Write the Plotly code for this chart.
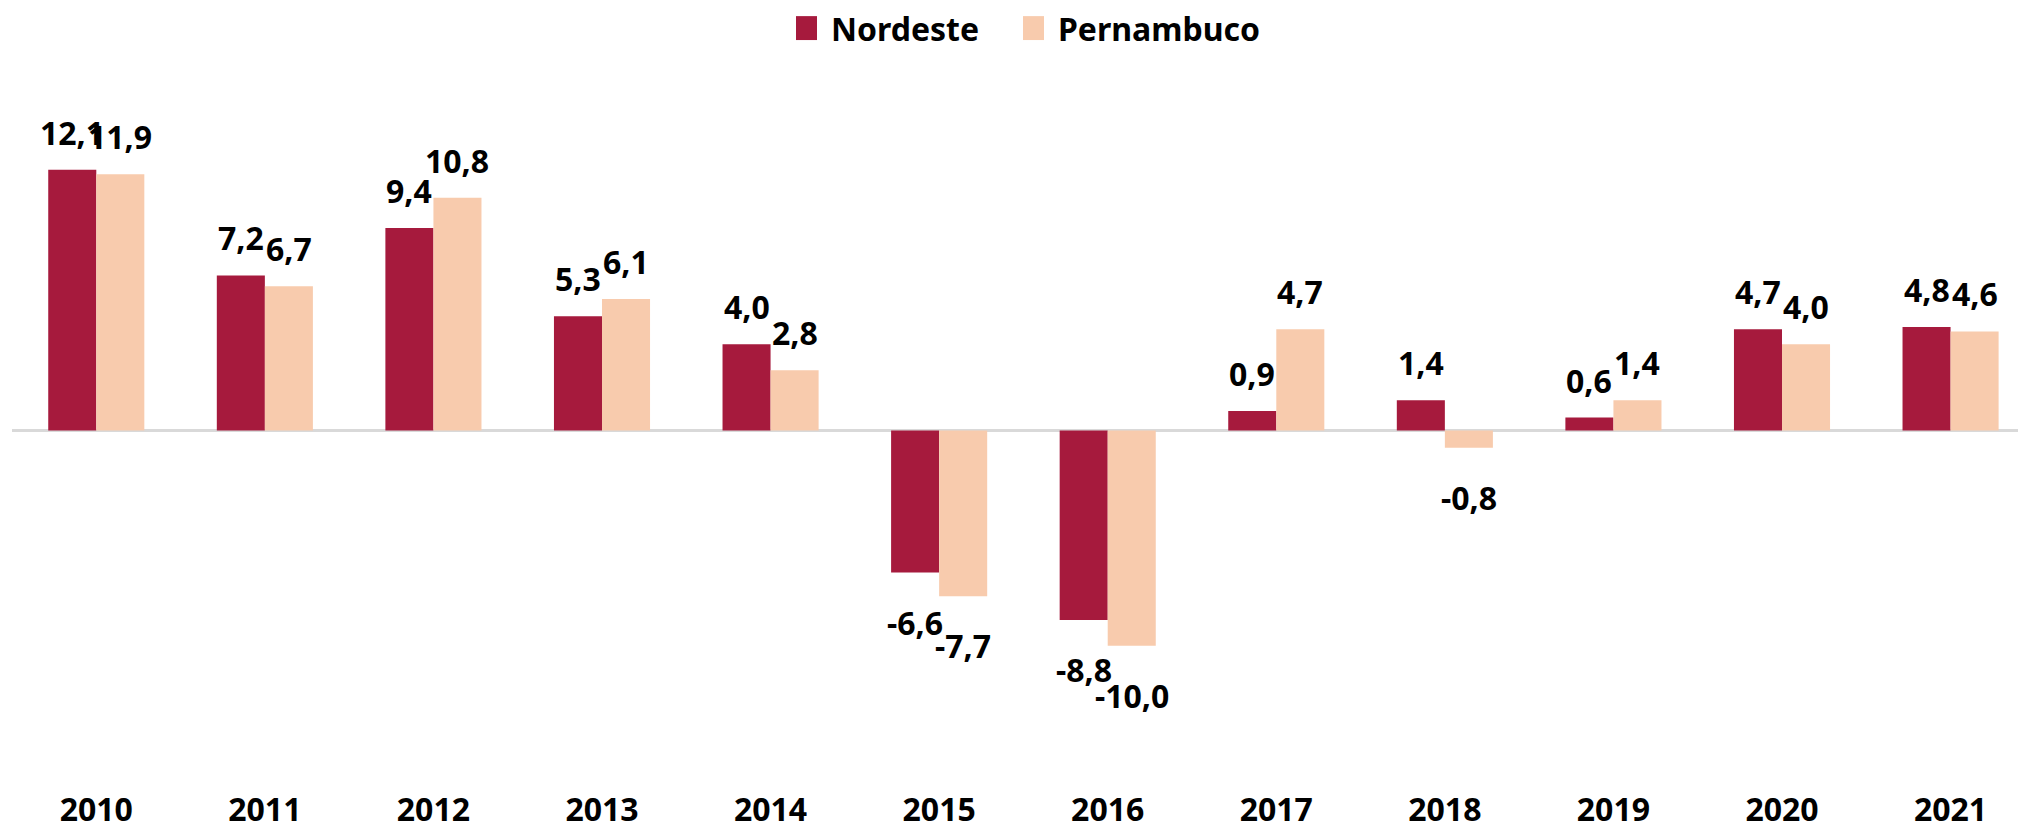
import plotly.graph_objects as go

years = ["2010", "2011", "2012", "2013", "2014", "2015", "2016", "2017", "2018", "2019", "2020", "2021"]
nordeste = [12.1, 7.2, 9.4, 5.3, 4.0, -6.6, -8.8, 0.9, 1.4, 0.6, 4.7, 4.8]
pernambuco = [11.9, 6.7, 10.8, 6.1, 2.8, -7.7, -10.0, 4.7, -0.8, 1.4, 4.0, 4.6]
series_names = ["Nordeste", "Pernambuco"]
colors = ["#A61A3D", "#F8CBAD"]

FONT = "Noto Sans"
W, H = 2018, 830
ML, MR, MT, MB = 12, 0, 60, 40
BARGAP = 0.43
X_RANGE = [-0.5, 11.4]
Y_RANGE = [-16.6, 17.2]

fig = go.Figure()
for name, vals, col in zip(series_names, [nordeste, pernambuco], colors):
    fig.add_trace(go.Bar(
        x=years, y=vals, name=name,
        marker=dict(color=col, line=dict(width=0)),
        showlegend=False,
    ))

# value labels above/below each bar, comma decimal
plot_w = W - ML - MR
px_per_cat = plot_w / (X_RANGE[1] - X_RANGE[0])
bar_w = px_per_cat * (1 - BARGAP) / 2
annotations = []
for k, vals in enumerate([nordeste, pernambuco]):
    shift = (k - 0.5) * bar_w
    for i, v in enumerate(vals):
        annotations.append(dict(
            x=i, y=v, xref="x", yref="y",
            text=f"{v:.1f}".replace(".", ","),
            showarrow=False,
            xshift=shift,
            yanchor="bottom" if v >= 0 else "top",
            yshift=14 if v >= 0 else -26,
            font=dict(family=FONT, size=32, color="#000000", weight="bold"),
        ))

# legend drawn as swatches + text above the plot
plot_h = H - MT - MB
def px_x(p):
    return (p - ML) / plot_w
def px_y(p):
    return (H - MB - p) / plot_h

legend_items = [(796, 817, 829, series_names[0], colors[0]),
                (1023, 1044, 1056, series_names[1], colors[1])]
shapes = []
for x0, x1, tx, label, col in legend_items:
    shapes.append(dict(type="rect", xref="paper", yref="paper",
                       x0=px_x(x0), x1=px_x(x1), y0=px_y(40), y1=px_y(16),
                       fillcolor=col, line=dict(width=0)))
    annotations.append(dict(x=px_x(tx), y=px_y(28), xref="paper", yref="paper",
                            text=label, showarrow=False, xanchor="left", yanchor="middle",
                            font=dict(family=FONT, size=32, color="#000000", weight="bold")))

fig.update_layout(
    width=W, height=H,
    margin=dict(l=ML, r=MR, t=MT, b=MB),
    paper_bgcolor="white", plot_bgcolor="white",
    barmode="group", bargap=BARGAP, bargroupgap=0,
    annotations=annotations, shapes=shapes,
    xaxis=dict(type="category", range=X_RANGE, showgrid=False, showline=False, ticks="",
               tickfont=dict(family=FONT, size=32, color="#000000", weight="bold")),
    yaxis=dict(range=Y_RANGE, showgrid=False, showticklabels=False,
               zeroline=True, zerolinecolor="#D9D9D9", zerolinewidth=3),
)

fig.write_html("out.html")
